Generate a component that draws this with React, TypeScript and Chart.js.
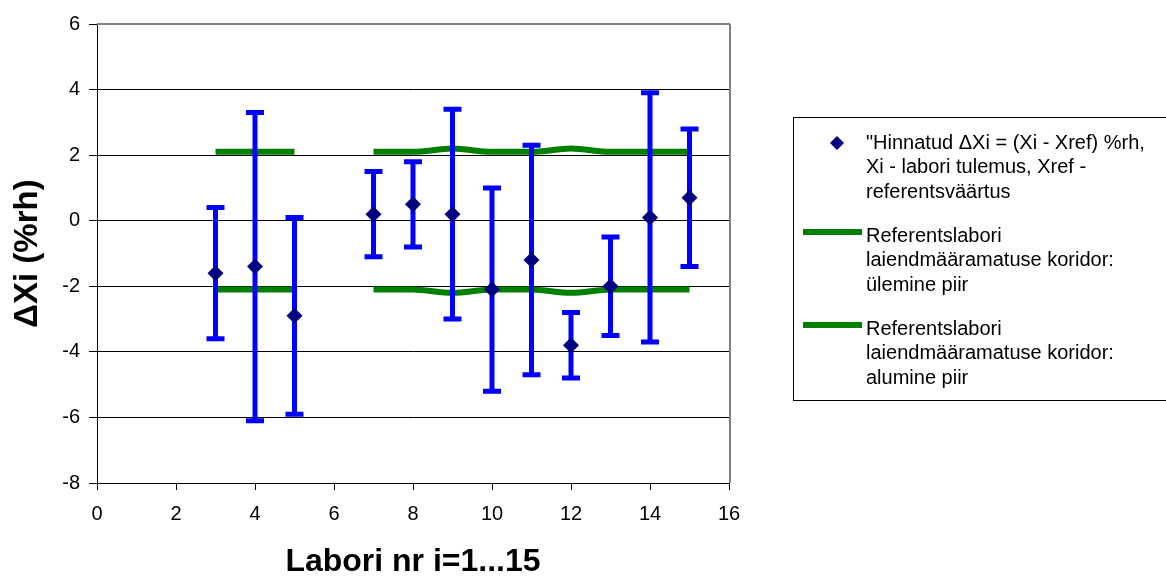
import React, { useEffect, useRef } from "react";
import { Chart, registerables } from "chart.js";

Chart.register(...registerables);

// ---- data ----
const labX = [3, 4, 5, 7, 8, 9, 10, 11, 12, 13, 14, 15];
const deltaXi = [-1.6, -1.4, -2.9, 0.2, 0.5, 0.2, -2.1, -1.2, -3.8, -2.0, 0.1, 0.7];
const errUpper = [0.4, 3.3, 0.1, 1.5, 1.8, 3.4, 1.0, 2.3, -2.8, -0.5, 3.9, 2.8];
const errLower = [-3.6, -6.1, -5.9, -1.1, -0.8, -3.0, -5.2, -4.7, -4.8, -3.5, -3.7, -1.4];

const corridorX = [3, 4, 5, 6, 7, 8, 9, 10, 11, 12, 13, 14, 15];
const corridorUpper = [2.1, 2.1, 2.1, null, 2.1, 2.1, 2.2, 2.1, 2.1, 2.2, 2.1, 2.1, 2.1];
const corridorLower = [-2.1, -2.1, -2.1, null, -2.1, -2.1, -2.2, -2.1, -2.1, -2.2, -2.1, -2.1, -2.1];

const legendLines: string[][] = [
  ['"Hinnatud ΔXi = (Xi - Xref) %rh,', "Xi - labori tulemus, Xref -", "referentsväärtus"],
  ["Referentslabori", "laiendmääramatuse koridor:", "ülemine piir"],
  ["Referentslabori", "laiendmääramatuse koridor:", "alumine piir"],
];

const xTitle = "Labori nr i=1...15";
const yTitle = "ΔXi (%rh)";

const FONT = "'Liberation Sans', Arial, Helvetica, sans-serif";

const errorBarPlugin = {
  id: "errorBars",
  beforeDatasetDraw(chart: any, args: any) {
    if (args.index !== 0) return;
    const xs = chart.scales.x;
    const ys = chart.scales.y;
    const ctx = chart.ctx;
    ctx.save();
    ctx.strokeStyle = "#0000FF";
    ctx.lineWidth = 5;
    ctx.lineCap = "butt";
    for (let i = 0; i < labX.length; i++) {
      const px = xs.getPixelForValue(labX[i]);
      const pt = ys.getPixelForValue(errUpper[i]);
      const pb = ys.getPixelForValue(errLower[i]);
      ctx.beginPath();
      ctx.moveTo(px, pt);
      ctx.lineTo(px, pb);
      ctx.moveTo(px - 9, pt);
      ctx.lineTo(px + 9, pt);
      ctx.moveTo(px - 9, pb);
      ctx.lineTo(px + 9, pb);
      ctx.stroke();
    }
    ctx.restore();
  },
};

const framePlugin = {
  id: "frameAndLegend",
  afterDraw(chart: any) {
    const ctx = chart.ctx;
    const a = chart.chartArea;
    ctx.save();
    // top & right border of plot area
    ctx.strokeStyle = "#808080";
    ctx.lineWidth = 2;
    ctx.beginPath();
    ctx.moveTo(a.left, a.top);
    ctx.lineTo(a.right + 1, a.top);
    ctx.moveTo(a.right + 1, a.top);
    ctx.lineTo(a.right + 1, a.bottom);
    ctx.stroke();

    // legend box
    ctx.strokeStyle = "#000";
    ctx.lineWidth = 1;
    ctx.strokeRect(793.5, 117.5, 380, 283);

    ctx.font = `20px ${FONT}`;
    ctx.fillStyle = "#000";
    ctx.textBaseline = "middle";
    ctx.textAlign = "left";
    const starts = [143, 236, 329];
    const lh = 24.5;
    legendLines.forEach((lines, k) => {
      lines.forEach((t, j) => ctx.fillText(t, 866, starts[k] + j * lh));
    });
    // marker symbol
    const ds0 = chart.data.datasets[0];
    ctx.fillStyle = ds0.backgroundColor;
    ctx.beginPath();
    ctx.moveTo(837, 143 - 7);
    ctx.lineTo(844, 143);
    ctx.lineTo(837, 143 + 7);
    ctx.lineTo(830, 143);
    ctx.closePath();
    ctx.fill();
    // line symbols
    [1, 2].forEach((d, k) => {
      const ds = chart.data.datasets[d];
      ctx.strokeStyle = ds.borderColor;
      ctx.lineWidth = 6;
      const y = [232, 325][k];
      ctx.beginPath();
      ctx.moveTo(803, y);
      ctx.lineTo(862, y);
      ctx.stroke();
    });
    ctx.restore();
  },
};

export default function App() {
  const ref = useRef<HTMLCanvasElement | null>(null);
  useEffect(() => {
    document.body.style.margin = "0";
    const canvas = ref.current!;
    const chart = new Chart(canvas, {
      type: "scatter",
      data: {
        datasets: [
          {
            label: legendLines[0].join(" "),
            data: labX.map((x, i) => ({ x, y: deltaXi[i] })),
            backgroundColor: "#000080",
            borderColor: "#000080",
            pointStyle: "rectRot",
            pointRadius: 8,
            pointBorderWidth: 0,
            order: 0,
          },
          {
            label: legendLines[1].join(" "),
            type: "line",
            data: corridorX.map((x, i) => ({ x, y: corridorUpper[i] })) as any,
            borderColor: "#008000",
            backgroundColor: "#008000",
            borderWidth: 6,
            pointRadius: 0,
            spanGaps: false,
            cubicInterpolationMode: "monotone",
            fill: false,
            order: 1,
          },
          {
            label: legendLines[2].join(" "),
            type: "line",
            data: corridorX.map((x, i) => ({ x, y: corridorLower[i] })) as any,
            borderColor: "#008000",
            backgroundColor: "#008000",
            borderWidth: 6,
            pointRadius: 0,
            spanGaps: false,
            cubicInterpolationMode: "monotone",
            fill: false,
            order: 2,
          },
        ],
      },
      options: {
        animation: false,
        responsive: false,
        maintainAspectRatio: false,
        layout: { padding: { left: 0, top: 24, right: 437, bottom: 0 } },
        plugins: { legend: { display: false }, tooltip: { enabled: false } },
        scales: {
          x: {
            type: "linear",
            min: 0,
            max: 16,
            ticks: { stepSize: 2, color: "#000", font: { family: FONT, size: 20 }, padding: 12, maxRotation: 0 },
            grid: { drawOnChartArea: false, drawTicks: true, tickLength: 7, color: "#000" },
            border: { display: true, color: "#000", width: 1 },
            title: {
              display: true,
              text: xTitle,
              color: "#000",
              font: { family: FONT, size: 32, weight: "bold", lineHeight: 1 },
              padding: { top: 0, bottom: 0 },
            },
            afterFit(scale: any) {
              scale.height = 95;
            },
          },
          y: {
            type: "linear",
            min: -8,
            max: 6,
            ticks: { stepSize: 2, color: "#000", font: { family: FONT, size: 20 }, padding: 9 },
            grid: { drawOnChartArea: true, drawTicks: true, tickLength: 8, color: "#000" },
            border: { display: true, color: "#000", width: 1 },
            title: {
              display: true,
              text: yTitle,
              color: "#000",
              font: { family: FONT, size: 33, weight: "bold", lineHeight: 1 },
              padding: { top: 11, bottom: 0 },
            },
            afterFit(scale: any) {
              scale.width = 97;
            },
          },
        },
      },
      plugins: [errorBarPlugin, framePlugin],
    } as any);
    return () => chart.destroy();
  }, []);
  return (
    <div style={{ position: "absolute", left: 0, top: 0, width: 1166, height: 578 }}>
      <canvas ref={ref} width={1166} height={578} style={{ display: "block" }} />
    </div>
  );
}
